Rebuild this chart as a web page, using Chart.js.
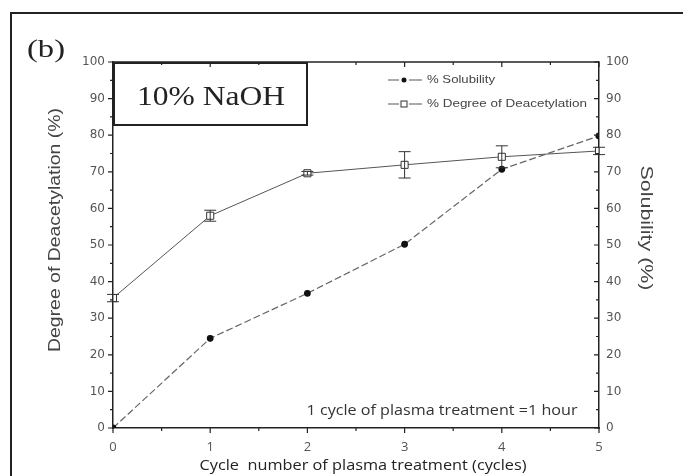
<!DOCTYPE html>
<html><head><meta charset="utf-8">
<script src="https://cdn.jsdelivr.net/npm/chart.js@4/dist/chart.umd.min.js"></script>
<style>html,body{margin:0;padding:0;background:#fff}#wrap{width:683px;height:476px;position:relative}</style>
</head><body><div id="wrap"><canvas id="c" width="683" height="476"></canvas></div>
<script>
const cycles = [0, 1, 2, 3, 4, 5];
const solubility = [0, 24.5, 36.8, 50.2, 70.7, 79.8];
const dda = [35.5, 58, 69.6, 71.9, 74.1, 75.7];
const ddaErr = [1, 1.5, 0.5, 3.6, 3, 1];
const yTickValues = [0, 10, 20, 30, 40, 50, 60, 70, 80, 90, 100];
const xTickValues = [0, 1, 2, 3, 4, 5];
const legendLabels = ['% Solubility', '% Degree of Deacetylation'];
const panelLabel = '(b)';
const boxLabel = '10% NaOH';
const noteLabel = '1 cycle of plasma treatment =1 hour';
const yTitle = 'Degree of Deacetylation (%)';
const y1Title = 'Solubility (%)';
const xTitle = 'Cycle  number of plasma treatment (cycles)';

function stretchText(ctx, text, x, y, targetW, font, rot, color, align) {
  ctx.save();
  ctx.font = font;
  ctx.fillStyle = color;
  const w = ctx.measureText(text).width;
  ctx.translate(x, y);
  ctx.rotate(rot || 0);
  ctx.scale(targetW / w, 1);
  ctx.textAlign = align || 'center';
  ctx.textBaseline = 'middle';
  ctx.fillText(text, 0, 0);
  ctx.restore();
}

const decor = {
  id: 'decor',
  afterDatasetsDraw(chart) {
    const ctx = chart.ctx;
    const xs = chart.scales.x, ys = chart.scales.y;
    const a = chart.chartArea;
    // error bars
    ctx.save();
    ctx.strokeStyle = '#333';
    ctx.lineWidth = 1;
    cycles.forEach((c, i) => {
      const px = xs.getPixelForValue(c);
      const top = ys.getPixelForValue(dda[i] + ddaErr[i]);
      const bot = ys.getPixelForValue(dda[i] - ddaErr[i]);
      ctx.beginPath();
      ctx.moveTo(px, top); ctx.lineTo(px, bot);
      ctx.moveTo(px - 6, top); ctx.lineTo(px + 6, top);
      ctx.moveTo(px - 6, bot); ctx.lineTo(px + 6, bot);
      ctx.stroke();
    });
    ctx.restore();
  },
  afterDraw(chart) {
    const ctx = chart.ctx;
    const xs = chart.scales.x, ys = chart.scales.y;
    const a = chart.chartArea;
    ctx.save();
    // outer frame (left + top)
    ctx.strokeStyle = '#222';
    ctx.lineWidth = 2;
    ctx.beginPath();
    ctx.moveTo(11, 476); ctx.lineTo(11, 13); ctx.lineTo(683, 13);
    ctx.stroke();
    // top axis line
    ctx.lineWidth = 1.5;
    ctx.beginPath();
    ctx.moveTo(a.left, a.top); ctx.lineTo(a.right, a.top);
    ctx.stroke();
    // ticks
    ctx.lineWidth = 1.2;
    ctx.beginPath();
    for (let v = 0; v <= 100; v += 5) {
      const py = ys.getPixelForValue(v);
      const len = v % 10 === 0 ? 5 : 3;
      ctx.moveTo(a.left - len, py); ctx.lineTo(a.left, py);
      ctx.moveTo(a.right - len, py); ctx.lineTo(a.right, py);
    }
    for (let v = 0; v <= 5; v += 0.5) {
      const px = xs.getPixelForValue(v);
      const len = Number.isInteger(v) ? 5 : 3;
      ctx.moveTo(px, a.bottom); ctx.lineTo(px, a.bottom + len);
      ctx.moveTo(px, a.top); ctx.lineTo(px, a.top + len);
    }
    ctx.stroke();
    // NaOH box
    ctx.lineWidth = 2;
    ctx.strokeRect(a.left + 1, a.top + 1, 193, 62);
    ctx.restore();
    stretchText(ctx, boxLabel, 211, 98, 148, '28px "Liberation Serif"', 0, '#222');
    stretchText(ctx, panelLabel, 46, 50, 38, '25px "Liberation Serif"', 0, '#222');
    // legend
    ctx.save();
    ctx.strokeStyle = '#555';
    ctx.lineWidth = 1;
    [80, 104].forEach((ly, i) => {
      ctx.beginPath();
      ctx.moveTo(388, ly); ctx.lineTo(399, ly);
      ctx.moveTo(409, ly); ctx.lineTo(422, ly);
      ctx.stroke();
      if (i === 0) {
        ctx.fillStyle = '#111';
        ctx.beginPath(); ctx.arc(404, ly, 2.5, 0, Math.PI * 2); ctx.fill();
      } else {
        ctx.strokeStyle = '#333';
        ctx.fillStyle = '#fff';
        ctx.fillRect(401, ly - 3, 6, 6);
        ctx.strokeRect(401, ly - 3, 6, 6);
      }
      stretchText(ctx, legendLabels[i], 427, ly, i === 0 ? 68 : 160, '11px "Liberation Sans"', 0, '#444', 'left');
    });
    ctx.restore();
    stretchText(ctx, noteLabel, 442, 411, 271, '14px "Open Sans"', 0, '#333');
    stretchText(ctx, yTitle, 56, 230, 244, '16px "Liberation Sans"', -Math.PI / 2, '#444');
    stretchText(ctx, y1Title, 645, 228, 125, '16px "Liberation Sans"', Math.PI / 2, '#444');
    stretchText(ctx, xTitle, 363, 466, 327, '15px "Open Sans"', 0, '#222');
  }
};

new Chart(document.getElementById('c'), {
  type: 'line',
  data: {
    datasets: [
      {
        label: legendLabels[0],
        data: cycles.map((c, i) => ({ x: c, y: solubility[i] })),
        yAxisID: 'y1',
        borderColor: '#666',
        borderWidth: 1.2,
        borderDash: [7, 3],
        pointStyle: 'circle',
        pointRadius: 2.8,
        pointBackgroundColor: '#111',
        pointBorderColor: '#111',
        tension: 0
      },
      {
        label: legendLabels[1],
        data: cycles.map((c, i) => ({ x: c, y: dda[i] })),
        yAxisID: 'y',
        borderColor: '#555',
        borderWidth: 1,
        pointStyle: 'rect',
        pointRadius: 5,
        pointBackgroundColor: '#fff',
        pointBorderColor: '#333',
        pointBorderWidth: 1,
        tension: 0
      }
    ]
  },
  options: {
    responsive: false,
    animation: false,
    devicePixelRatio: 1,
    layout: { padding: { top: 62, left: 0, right: 0, bottom: 0 } },
    plugins: { legend: { display: false }, tooltip: { enabled: false } },
    scales: {
      x: {
        type: 'linear', position: 'bottom', min: 0, max: 5,
        afterFit(s) { s.height = 48; },
        afterBuildTicks(s) { s.ticks = xTickValues.map(v => ({ value: v })); },
        grid: { display: false, drawTicks: false },
        border: { display: true, color: '#222', width: 1.5 },
        ticks: { padding: 11, color: '#555', font: { family: 'Open Sans', size: 13 } }
      },
      y: {
        position: 'left', min: 0, max: 100,
        afterFit(s) { s.width = 113; },
        afterBuildTicks(s) { s.ticks = yTickValues.map(v => ({ value: v })); },
        grid: { display: false, drawTicks: false },
        border: { display: true, color: '#222', width: 1.5 },
        ticks: { padding: 8, color: '#555', font: { family: 'DejaVu Sans', size: 12 } }
      },
      y1: {
        position: 'right', min: 0, max: 100,
        afterFit(s) { s.width = 84; },
        afterBuildTicks(s) { s.ticks = yTickValues.map(v => ({ value: v })); },
        grid: { display: false, drawTicks: false },
        border: { display: true, color: '#222', width: 1.5 },
        ticks: { padding: 7, color: '#555', font: { family: 'DejaVu Sans', size: 12 } }
      }
    }
  },
  plugins: [decor]
});
</script>
</body></html>
